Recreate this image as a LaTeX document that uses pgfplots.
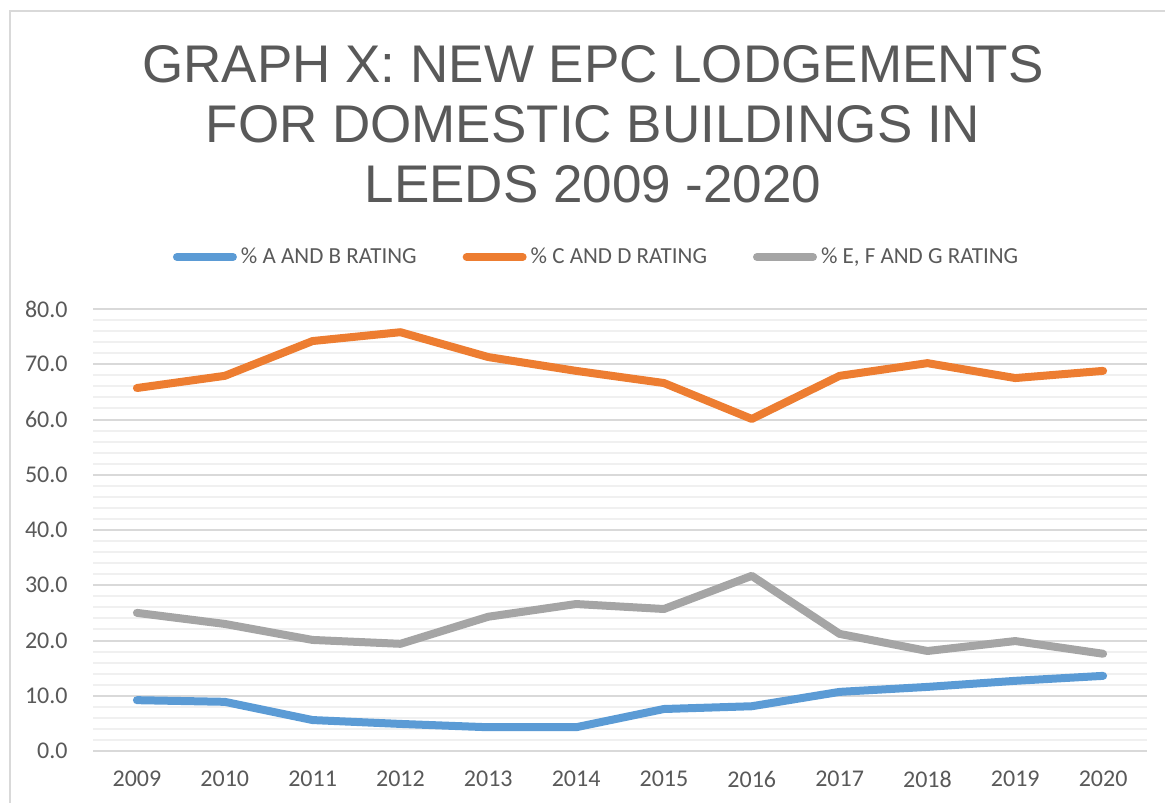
\documentclass[border=0pt]{standalone}
\usepackage{fontspec}
\setmainfont{Carlito}
\newfontfamily\titlefont{Liberation Sans}
\usepackage{pgfplots}
\pgfplotsset{compat=1.18}

\definecolor{serA}{HTML}{5B9BD5}
\definecolor{serC}{HTML}{ED7D31}
\definecolor{serE}{HTML}{A5A5A5}
\definecolor{txt}{HTML}{595959}
\definecolor{gmaj}{HTML}{D9D9D9}
\definecolor{gmin}{HTML}{F0F0F0}

\begin{document}
\begin{tikzpicture}
\useasboundingbox (0,0) rectangle (582.5pt,401pt);
% chart frame (only left and top edges visible)
\draw[gmaj, line width=1pt] (5pt,-10pt) -- (5pt,395.5pt) -- (600pt,395.5pt);

% title
\begin{scope}[every node/.style={anchor=base, text=txt, font=\titlefont\fontsize{26.5}{30}\selectfont, inner sep=0pt}]
\node at (296.5pt,359.5pt) {GRAPH X: NEW EPC LODGEMENTS};
\node at (296.5pt,329.5pt) {FOR DOMESTIC BUILDINGS IN};
\node at (296.5pt,299.5pt) {LEEDS 2009 -2020};
\end{scope}

\begin{axis}[
    at={(46.5pt,25.5pt)}, anchor=south west,
    scale only axis,
    width=527pt, height=221pt,
    xmin=-0.5, xmax=11.5,
    ymin=0, ymax=80,
    axis line style={draw=none},
    major tick length=0pt, minor tick length=0pt,
    xtick={0,...,11},
    xticklabels={2009,2010,2011,2012,2013,2014,2015,2016,2017,2018,2019,2020},
    ytick={0,10,...,80},
    minor ytick={2,4,...,78},
    ymajorgrids, yminorgrids,
    major grid style={gmaj, line width=1pt},
    minor grid style={gmin, line width=1pt},
    tick label style={text=txt, font=\fontsize{12}{14}\selectfont, inner sep=0pt},
    xticklabel style={anchor=north, yshift=-10pt},
    yticklabel style={anchor=east, xshift=-12.5pt,
        /pgf/number format/.cd, fixed, fixed zerofill, precision=1, assume math mode=true},
    clip=false,
    legend columns=3,
    legend style={at={(0.4787,1.1176)}, anchor=center, draw=none, fill=none,
        font=\fontsize{11.5}{13}\selectfont, text=txt,
        /tikz/every even column/.append style={column sep=21pt},
        inner sep=0pt, outer sep=0pt},
    legend cell align=left,
    legend image code/.code={\draw[#1, line cap=round] (0pt,0pt) -- (28pt,0pt);},
    every axis plot/.append style={line width=4pt, line cap=round, line join=round},
]
\addplot[serA] coordinates {
    (0,9.2) (1,8.9) (2,5.6) (3,4.9) (4,4.3) (5,4.3)
    (6,7.6) (7,8.1) (8,10.7) (9,11.6) (10,12.7) (11,13.6)
};
\addlegendentry{\% A AND B RATING}
\addplot[serC] coordinates {
    (0,65.7) (1,67.9) (2,74.2) (3,75.8) (4,71.3) (5,68.8)
    (6,66.6) (7,60.1) (8,67.9) (9,70.2) (10,67.5) (11,68.8)
};
\addlegendentry{\% C AND D RATING}
\addplot[serE] coordinates {
    (0,25.0) (1,23.0) (2,20.1) (3,19.4) (4,24.3) (5,26.6)
    (6,25.7) (7,31.7) (8,21.2) (9,18.1) (10,19.9) (11,17.6)
};
\addlegendentry{\% E, F AND G RATING}
\end{axis}
\end{tikzpicture}
\end{document}
